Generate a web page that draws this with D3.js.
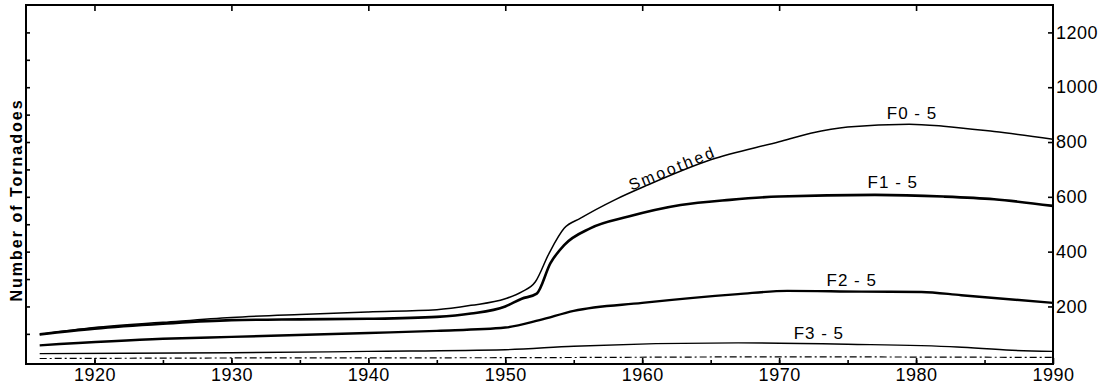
<!DOCTYPE html>
<html>
<head>
<meta charset="utf-8">
<script src="https://cdn.jsdelivr.net/npm/d3@7"></script>
<style>
  body { margin: 0; background: #fff; }
  svg { display: block; font-family: "Liberation Sans", Arial, sans-serif; }
  .axis path { display: none; }
  .axis line { stroke: #000; stroke-width: 1.6; }
  .axis text { fill: #000; }
</style>
</head>
<body>
<div class="container"></div>
<script>
// yearly counts
var f05Years = [1916, 1920, 1925, 1930, 1935, 1940, 1945, 1947.5, 1950, 1951.2, 1952.2, 1953.2, 1954.3, 1955.5, 1958, 1960.4, 1965, 1970, 1972.3, 1975, 1979.5, 1982, 1985.7, 1990];
var f05 = [98, 123, 142, 160, 171, 180, 188, 204, 228, 253, 290, 394, 485, 522, 589, 643, 735, 801, 832, 855, 865, 858, 838, 810];

var f15Years = [1916, 1920, 1925, 1930, 1935, 1940, 1945, 1947.5, 1950, 1951.2, 1952.3, 1953.3, 1954.3, 1956.2, 1959, 1962.8, 1966.4, 1970, 1977, 1982, 1985.7, 1990];
var f15 = [98, 119, 137, 150, 153, 155, 162, 174, 200, 228, 247, 358, 424, 485, 528, 570, 589, 601, 607, 601, 591, 567];

var f25Years = [1916, 1925, 1930, 1940, 1945, 1950, 1952.5, 1955, 1960, 1967, 1970.6, 1976, 1980.4, 1983.3, 1990];
var f25 = [58, 82, 89, 103, 111, 123, 150, 184, 213, 245, 257, 254, 253, 241, 213];

var f35Years = [1916, 1930, 1940, 1950, 1955, 1967, 1975, 1983, 1987, 1990];
var f35 = [28, 31, 36, 42, 55, 67, 62, 52, 40, 36];

var f45Years = [1916, 1930, 1950, 1970, 1990];
var f45 = [10, 12, 13, 16, 14];

var xTicks = [1920, 1930, 1940, 1950, 1960, 1970, 1980, 1990];
var xMinor = [1920, 1925, 1930, 1935, 1940, 1945, 1950, 1955, 1960, 1965, 1970, 1975, 1980, 1985];
var yTicksRight = [200, 400, 600, 800, 1000, 1200];
var yTicksLeft = [100, 200, 300, 400, 500, 600, 700, 800, 900, 1000, 1100, 1200];

var labels = ["F0 - 5", "F1 - 5", "F2 - 5", "F3 - 5"];
var labelYears = [1979.7, 1978.3, 1975.3, 1972.9];
var labelValues = [905, 655, 297, 103];

var w = 1115, h = 387;
var pLeft = 26, pRight = 1053, pTop = 5, pBottom = 364;

var svg = d3.select(".container").append("svg")
  .attr("width", w)
  .attr("height", h);

var x = d3.scaleLinear().domain([1915, 1990]).range([pLeft, pRight]);
var y = d3.scaleLinear().domain([-10, 1300]).range([pBottom, pTop]);

var line = d3.line()
  .x(function(d) { return x(d[0]); })
  .y(function(d) { return y(d[1]); })
  .curve(d3.curveMonotoneX);

function pairs(years, vals) {
  return years.map(function(yr, i) { return [yr, vals[i]]; });
}

// axes, ticks pointing inward
svg.append("g").attr("class", "axis")
  .attr("transform", "translate(0," + pBottom + ")")
  .call(d3.axisBottom(x).tickValues(xTicks).tickSize(-6).tickPadding(4).tickFormat(d3.format("d")))
  .selectAll("text").style("font-size", "18px").style("letter-spacing", "0.5px");

svg.append("g").attr("class", "axis")
  .attr("transform", "translate(0," + pBottom + ")")
  .call(d3.axisBottom(x).tickValues(xMinor).tickSize(-4).tickFormat(""));

svg.append("g").attr("class", "axis")
  .attr("transform", "translate(0," + pTop + ")")
  .call(d3.axisTop(x).tickValues(xTicks.slice(0, 7)).tickSize(-6).tickFormat(""));

svg.append("g").attr("class", "axis")
  .attr("transform", "translate(" + pLeft + ",0)")
  .call(d3.axisLeft(y).tickValues(yTicksLeft).tickSize(-4).tickFormat(""));

svg.append("g").attr("class", "axis")
  .attr("transform", "translate(" + pRight + ",0)")
  .call(d3.axisRight(y).tickValues(yTicksRight).tickSize(-5).tickPadding(3).tickFormat(d3.format("d")))
  .selectAll("text").style("font-size", "18px").style("letter-spacing", "0.5px");

// frame
svg.append("rect")
  .attr("x", pLeft).attr("y", pTop)
  .attr("width", pRight - pLeft).attr("height", pBottom - pTop)
  .attr("fill", "none").attr("stroke", "#000").attr("stroke-width", 2);

// series
svg.append("path").datum(pairs(f45Years, f45))
  .attr("d", line).attr("fill", "none").attr("stroke", "#000")
  .attr("stroke-width", 1.2).attr("stroke-dasharray", "7,3,2,3");

svg.append("path").datum(pairs(f35Years, f35))
  .attr("d", line).attr("fill", "none").attr("stroke", "#000").attr("stroke-width", 1.4);

svg.append("path").datum(pairs(f25Years, f25))
  .attr("d", line).attr("fill", "none").attr("stroke", "#000").attr("stroke-width", 2.4);

svg.append("path").datum(pairs(f15Years, f15))
  .attr("d", line).attr("fill", "none").attr("stroke", "#000").attr("stroke-width", 2.6);

svg.append("path").datum(pairs(f05Years, f05))
  .attr("d", line).attr("fill", "none").attr("stroke", "#000").attr("stroke-width", 1.5);

// series labels
svg.selectAll(".lbl").data(labels).enter().append("text")
  .attr("class", "lbl")
  .attr("x", function(d, i) { return x(labelYears[i]); })
  .attr("y", function(d, i) { return y(labelValues[i]); })
  .attr("text-anchor", "middle")
  .attr("dy", "0.36em")
  .style("font-size", "17px")
  .style("letter-spacing", "1px")
  .text(function(d) { return d; });

svg.append("text")
  .attr("transform", "translate(" + x(1962.2) + "," + y(705) + ") rotate(-22)")
  .attr("text-anchor", "middle")
  .attr("dy", "0.36em")
  .style("font-size", "16px")
  .style("letter-spacing", "2.5px")
  .text("Smoothed");

svg.append("text")
  .attr("transform", "translate(16,200) rotate(-90)")
  .attr("text-anchor", "middle")
  .attr("dy", "0.36em")
  .style("font-size", "16px")
  .style("font-weight", "bold")
  .style("letter-spacing", "2px")
  .text("Number of Tornadoes");
</script>
</body>
</html>
